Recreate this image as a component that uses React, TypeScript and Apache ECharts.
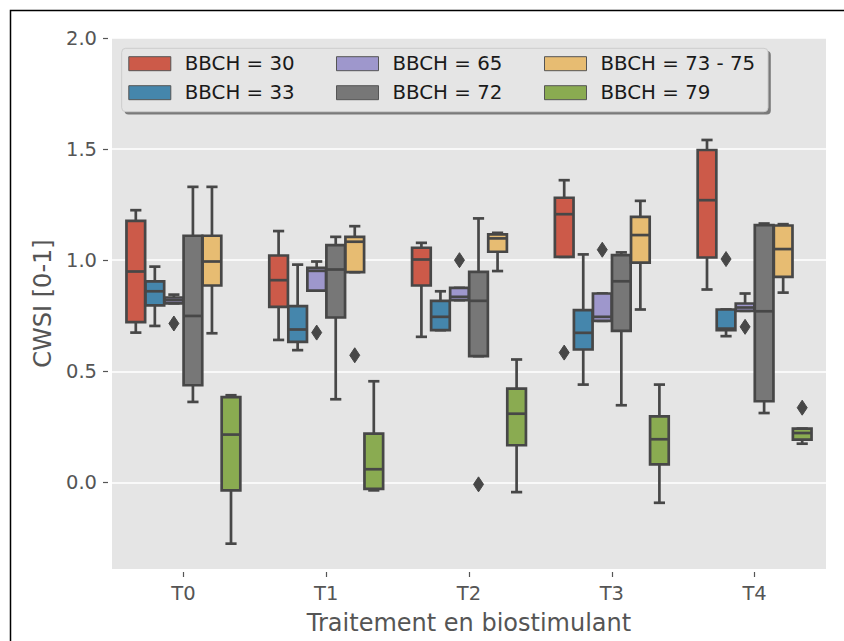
import React, { useEffect, useRef } from 'react';
import * as echarts from 'echarts';

const categories = ['T0', 'T1', 'T2', 'T3', 'T4'];
const hueNames = ['BBCH = 30', 'BBCH = 33', 'BBCH = 65', 'BBCH = 72', 'BBCH = 73 - 75', 'BBCH = 79'];
const hueColors = ['#CC5A49', '#4586AC', '#9E97CC', '#777777', '#E7BC72', '#8AAB51'];

// [lower whisker, Q1, median, Q3, upper whisker] for T0..T4
const bbch30 = [
  [0.674, 0.721, 0.949, 1.177, 1.225],
  [0.641, 0.790, 0.910, 1.021, 1.131],
  [0.655, 0.886, 1.003, 1.056, 1.078],
  [1.015, 1.015, 1.207, 1.281, 1.360],
  [0.868, 1.012, 1.270, 1.496, 1.541],
];
const bbch33 = [
  [0.704, 0.797, 0.860, 0.905, 0.971],
  [0.595, 0.632, 0.688, 0.793, 0.980],
  [0.685, 0.685, 0.745, 0.817, 0.860],
  [0.440, 0.598, 0.673, 0.775, 1.026],
  [0.658, 0.685, 0.692, 0.778, 0.778],
];
const bbch65 = [
  [0.806, 0.806, 0.820, 0.832, 0.845],
  [0.863, 0.863, 0.952, 0.965, 0.994],
  [0.820, 0.820, 0.835, 0.875, 0.875],
  [0.727, 0.727, 0.745, 0.850, 0.850],
  [0.772, 0.772, 0.787, 0.805, 0.850],
];
const bbch72 = [
  [0.362, 0.437, 0.749, 1.110, 1.330],
  [0.374, 0.742, 0.958, 1.068, 1.105],
  [0.568, 0.568, 0.817, 0.947, 1.188],
  [0.347, 0.682, 0.905, 1.023, 1.035],
  [0.312, 0.365, 0.770, 1.158, 1.165],
];
const bbch7375 = [
  [0.671, 0.886, 0.994, 1.110, 1.330],
  [0.946, 0.946, 1.083, 1.105, 1.153],
  [0.951, 1.038, 1.098, 1.116, 1.123],
  [0.778, 0.989, 1.113, 1.195, 1.267],
  [0.854, 0.925, 1.050, 1.156, 1.162],
];
const bbch79 = [
  [-0.276, -0.036, 0.215, 0.384, 0.392],
  [-0.036, -0.029, 0.059, 0.219, 0.455],
  [-0.044, 0.167, 0.309, 0.422, 0.553],
  [-0.092, 0.081, 0.194, 0.297, 0.440],
  [0.174, 0.192, 0.222, 0.242, 0.242],
];
const hueData = [bbch30, bbch33, bbch65, bbch72, bbch7375, bbch79];

// [category index, hue index, value]
const outliers = [
  [0, 2, 0.715],
  [1, 2, 0.674],
  [1, 4, 0.572],
  [2, 2, 1.0],
  [2, 3, -0.009],
  [3, 0, 0.584],
  [3, 2, 1.047],
  [4, 1, 1.005],
  [4, 2, 0.700],
  [4, 5, 0.336],
];

const yTicks = [0, 0.5, 1.0, 1.5, 2.0];
const yMin = -0.39;
const yMax = 2.0;

const EDGE = '#474747';
const LW = 2.7;
const FONT = 'DejaVu Sans';
const NHUE = 6;

export default function App() {
  const ref = useRef<HTMLDivElement>(null);
  useEffect(() => {
    if (!ref.current) return;
    const chart = echarts.init(ref.current, null, { renderer: 'svg' });

    const boxSeries = hueData.map((rows, h) => ({
      type: 'custom',
      name: hueNames[h],
      itemStyle: { color: hueColors[h] },
      encode: { x: 0, y: [1, 2, 3, 4, 5] },
      data: rows.map((r, i) => [i, ...r]),
      z: 2,
      renderItem: (params: any, api: any) => {
        const c = api.value(0);
        const lo = api.value(1), q1 = api.value(2), med = api.value(3), q3 = api.value(4), hi = api.value(5);
        const band = api.size([1, 0])[0];
        const slot = (band * 0.8) / NHUE;
        const cx = api.coord([c, 0])[0] + (h - (NHUE - 1) / 2) * slot;
        const w = slot * 0.98;
        const capHalf = w * 0.3;
        const yLo = api.coord([c, lo])[1];
        const yQ1 = api.coord([c, q1])[1];
        const yMed = api.coord([c, med])[1];
        const yQ3 = api.coord([c, q3])[1];
        const yHi = api.coord([c, hi])[1];
        const ls = { stroke: EDGE, lineWidth: LW, fill: null };
        const children: any[] = [
          { type: 'line', shape: { x1: cx, y1: yQ1, x2: cx, y2: yLo }, style: ls },
          { type: 'line', shape: { x1: cx, y1: yQ3, x2: cx, y2: yHi }, style: ls },
          { type: 'line', shape: { x1: cx - capHalf, y1: yLo, x2: cx + capHalf, y2: yLo }, style: ls },
          { type: 'line', shape: { x1: cx - capHalf, y1: yHi, x2: cx + capHalf, y2: yHi }, style: ls },
          {
            type: 'rect',
            shape: { x: cx - w / 2, y: yQ3, width: w, height: yQ1 - yQ3 },
            style: { fill: hueColors[h], stroke: EDGE, lineWidth: LW },
          },
          { type: 'line', shape: { x1: cx - w / 2, y1: yMed, x2: cx + w / 2, y2: yMed }, style: ls },
        ];
        return { type: 'group', children };
      },
    }));

    const outlierSeries = {
      type: 'custom',
      name: 'outliers',
      encode: { x: 0, y: 2 },
      data: outliers,
      z: 3,
      renderItem: (params: any, api: any) => {
        const c = api.value(0);
        const h = api.value(1);
        const v = api.value(2);
        const band = api.size([1, 0])[0];
        const slot = (band * 0.8) / NHUE;
        const cx = api.coord([c, v])[0] + (h - (NHUE - 1) / 2) * slot;
        const cy = api.coord([c, v])[1];
        return {
          type: 'polygon',
          shape: { points: [[cx, cy - 7.5], [cx + 5, cy], [cx, cy + 7.5], [cx - 5, cy]] },
          style: { fill: EDGE, stroke: EDGE, lineWidth: 1 },
        };
      },
    };

    const legendCommon = {
      orient: 'vertical',
      icon: 'rect',
      itemWidth: 42,
      itemHeight: 14,
      itemGap: 9,
      padding: 0,
      top: 53.7,
      z: 10,
      selectedMode: false,
      itemStyle: { borderColor: '#555555', borderWidth: 1 },
      textStyle: { fontFamily: FONT, fontSize: 19.8, color: '#1a1a1a', padding: [0, 0, 0, 9] },
    };

    const option: any = {
      animation: false,
      backgroundColor: '#ffffff',
      grid: {
        left: 112,
        right: 18,
        top: 38,
        bottom: 72,
        show: true,
        backgroundColor: '#E5E5E5',
        borderWidth: 0,
      },
      graphic: [
        {
          type: 'rect',
          z: 1,
          shape: { x: 10.5, y: 10.5, width: 900, height: 700 },
          style: { fill: null, stroke: '#000000', lineWidth: 1.5 },
          silent: true,
        },
        {
          type: 'rect',
          z: 3,
          shape: { x: 124.5, y: 51, width: 646.3, height: 63.4, r: 4 },
          style: { fill: '#7a7a7a' },
          silent: true,
        },
        {
          type: 'rect',
          z: 4,
          shape: { x: 121.7, y: 48.3, width: 646.3, height: 63.4, r: 4 },
          style: { fill: '#E5E5E5', stroke: '#CCCCCC', lineWidth: 1 },
          silent: true,
        },
      ],
      legend: [
        { ...legendCommon, left: 128.3, data: [hueNames[0], hueNames[1]] },
        { ...legendCommon, left: 336, data: [hueNames[2], hueNames[3]] },
        { ...legendCommon, left: 544, data: [hueNames[4], hueNames[5]] },
      ],
      xAxis: {
        type: 'category',
        data: categories,
        offset: 3,
        axisLine: { show: false, onZero: false },
        axisTick: { show: true, alignWithLabel: true, length: 5, lineStyle: { color: '#555555', width: 1.2 } },
        axisLabel: { fontFamily: FONT, fontSize: 19.5, color: '#555555', margin: 11 },
        splitLine: { show: false },
        name: 'Traitement en biostimulant',
        nameLocation: 'middle',
        nameGap: 39,
        nameTextStyle: { fontFamily: FONT, fontSize: 24, color: '#555555' },
      },
      yAxis: {
        type: 'value',
        min: yMin,
        max: yMax,
        offset: 4,
        axisLine: { show: false, onZero: false },
        axisTick: { show: true, length: 5, customValues: yTicks, lineStyle: { color: '#555555', width: 1.2 } },
        axisLabel: {
          customValues: yTicks,
          formatter: (v: number) => v.toFixed(1),
          fontFamily: FONT,
          fontSize: 19.5,
          color: '#555555',
          margin: 11,
        },
        splitLine: { show: true, lineStyle: { color: '#ffffff', width: 1.5 } },
        name: 'CWSI [0-1]',
        nameLocation: 'middle',
        nameGap: 53,
        nameTextStyle: { fontFamily: FONT, fontSize: 24, color: '#555555' },
      },
      series: [...boxSeries, outlierSeries],
    };

    chart.setOption(option);
    return () => chart.dispose();
  }, []);

  return (
    <div
      ref={ref}
      style={{ position: 'fixed', left: 0, top: 0, width: 844, height: 641, background: '#fff' }}
    />
  );
}
